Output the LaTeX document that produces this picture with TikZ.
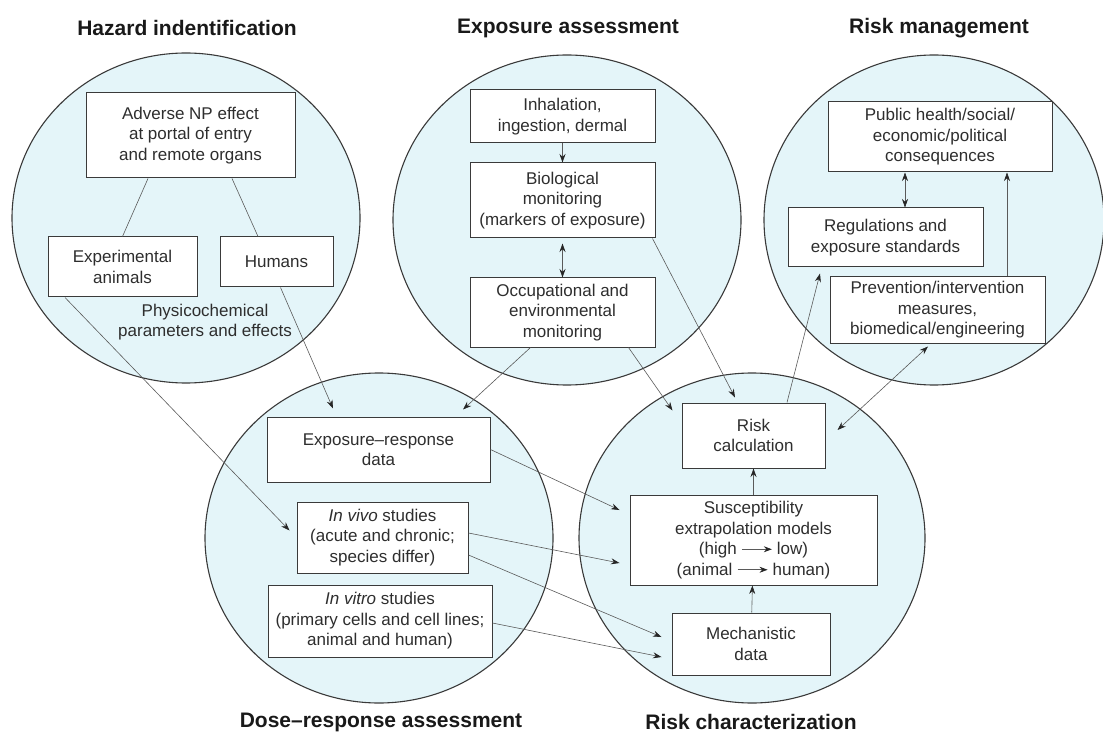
\documentclass[tikz,border=0pt]{standalone}
\usepackage{fontspec}
\setmainfont{Liberation Sans}
\usetikzlibrary{arrows.meta, positioning, shapes.geometric, calc}
\definecolor{cfill}{HTML}{E4F5F9}
\definecolor{cline}{HTML}{3A3A3A}
\definecolor{cconn}{HTML}{5A5A5A}
\definecolor{ctext}{HTML}{2E2E2E}
\tikzset{
  every picture/.style={line width=0.6pt},
  zone/.style={ellipse, draw=cline, fill=cfill, line width=1.1pt, minimum width=348pt, minimum height=330pt},
  box/.style={draw=cline, fill=white, line width=1pt, align=center, inner sep=2pt, text=ctext, font=\fontsize{17}{20.5}\selectfont},
  title/.style={font=\fontsize{21}{25}\selectfont\bfseries, text=black!90},
  note/.style={align=center, text=ctext, font=\fontsize{17}{20.5}\selectfont},
  link/.style={draw=cconn, line width=0.6pt},
  tip/.style={Stealth[length=8.5pt, width=6pt, color=black!85]},
  arrow/.style={link, -{Stealth[length=8.5pt, width=6pt, color=black!85]}},
  twoway/.style={link, {Stealth[length=8.5pt, width=6pt, color=black!85]}-{Stealth[length=8.5pt, width=6pt, color=black!85]}},
}
\newcommand{\toarrow}{\tikz[baseline=-0.6ex]\draw[draw=cconn, line width=0.7pt, -{Stealth[length=8pt, width=6pt, color=black!85]}] (0pt,0pt) -- (30pt,0pt);}

\begin{document}
\begin{tikzpicture}[x=1pt, y=-1pt]
  \useasboundingbox (0,0) rectangle (1103,735);
  % the five zones
  \node[zone] (hazard) at (186,218) {};
  \node[zone] (exposure) at (567,220) {};
  \node[zone, minimum width=340pt] (manage) at (934,220) {};
  \node[zone] (dose) at (379,538) {};
  \node[zone, minimum width=346pt] (charact) at (752,538) {};
  % titles
  \node[title] (tHaz) at (187,28) {Hazard indentification};
  \node[title] (tExp) at (568,28) {Exposure assessment};
  \node[title] (tMan) at (939,28) {Risk management};
  \node[title] (tDose) at (381,722) {Dose--response assessment};
  \node[title] (tChar) at (751,722) {Risk characterization};
  % hazard identification
  \node[box, minimum width=209pt, minimum height=85pt] (adverse) at (190.5,135.5) {Adverse NP effect\\at portal of entry\\and remote organs};
  \node[box, minimum width=149pt, minimum height=60pt] (animals) at (122.5,267) {Experimental\\animals};
  \node[box, minimum width=113pt, minimum height=50pt] (humans) at (276.5,262) {Humans};
  \node[note] (physchem) at (205,322) {Physicochemical\\parameters and effects};
  % exposure assessment
  \node[box, minimum width=185pt, minimum height=53pt] (inhal) at (562.5,116.5) {Inhalation,\\ingestion, dermal};
  \node[box, minimum width=185pt, minimum height=75pt] (biomon) at (562.5,200.5) {Biological\\monitoring\\(markers of exposure)};
  \node[box, minimum width=185pt, minimum height=69pt] (occup) at (562.5,312.5) {Occupational and\\environmental\\monitoring};
  % risk management
  \node[box, minimum width=224pt, minimum height=70pt] (public) at (940,137) {Public health/social/\\economic/political\\consequences};
  \node[box, minimum width=195pt, minimum height=59pt] (regul) at (885.5,237.5) {Regulations and\\exposure standards};
  \node[box, minimum width=215pt, minimum height=66pt] (prevent) at (937.5,310) {Prevention/intervention\\measures,\\biomedical/engineering};
  % risk characterization
  \node[box, minimum width=143pt, minimum height=65pt] (riskcalc) at (753.5,435.5) {Risk\\calculation};
  \node[box, minimum width=247pt, minimum height=90pt] (suscept) at (753.5,540) {Susceptibility\\extrapolation models\\(high \toarrow\ low)\\(animal \toarrow\ human)};
  \node[box, minimum width=158pt, minimum height=62pt] (mech) at (751,644) {Mechanistic\\data};
  % dose-response assessment
  \node[box, minimum width=223pt, minimum height=65pt] (expresp) at (378.5,449.5) {Exposure--response\\data};
  \node[box, minimum width=171pt, minimum height=71pt] (invivo) at (382.5,537.5) {\textit{In vivo} studies\\(acute and chronic;\\species differ)};
  \node[box, minimum width=224pt, minimum height=72pt] (invitro) at (380,621) {\textit{In vitro} studies\\(primary cells and cell lines;\\animal and human)};
  % connectors
  \draw[link] ($(adverse.south)+(-42.5,0)$) -- ($(animals.north)+(0,0)$);
  \draw[link] ($(adverse.south)+(41.5,0)$) -- ($(humans.north)+(-18.5,0)$);
  \draw[arrow] ($(animals.south)+(-57.5,0)$) -- ($(invivo.west)+(-7,-7)$);
  \draw[arrow] ($(humans.south)+(4,0)$) -- ($(expresp.north)+(-45.5,-8)$);
  \draw[arrow] (inhal) -- (biomon);
  \draw[twoway] ($(biomon.south)+(0,5)$) -- (occup);
  \draw[arrow] ($(occup.south)+(-32,0)$) -- ($(expresp.north)+(84.5,-7)$);
  \draw[arrow] ($(biomon.south east)+(-3,0)$) -- ($(riskcalc.north)+(-18.5,-5)$);
  \draw[arrow] ($(occup.south east)+(-27,0)$) -- ($(riskcalc.north west)+(-9,8)$);
  \draw[arrow] ($(riskcalc.north)+(33.5,0)$) -- ($(regul.south)+(-65.5,6)$);
  \draw[twoway] ($(regul.north)+(19.5,0)$) -- ($(public.south)+(-35,0)$);
  \draw[arrow] ($(prevent.north)+(69.5,0)$) -- ($(public.south)+(67,0)$);
  \draw[twoway] ($(prevent.south)+(-9.5,3)$) -- ($(riskcalc.east)+(12,-5.5)$);
  \draw[arrow] (suscept) -- (riskcalc);
  \draw[arrow] (mech) -- (suscept);
  \draw[arrow] (expresp.east) -- ($(suscept.west)+(-10,-30)$);
  \draw[arrow] ($(invivo.east)+(0,-4.5)$) -- ($(suscept.west)+(-10,23)$);
  \draw[arrow] ($(invivo.east)+(0,17.5)$) -- ($(mech.west)+(-10,-7)$);
  \draw[arrow] ($(invitro.east)+(0,2)$) -- ($(mech.west)+(-10,13)$);
\end{tikzpicture}
\end{document}
